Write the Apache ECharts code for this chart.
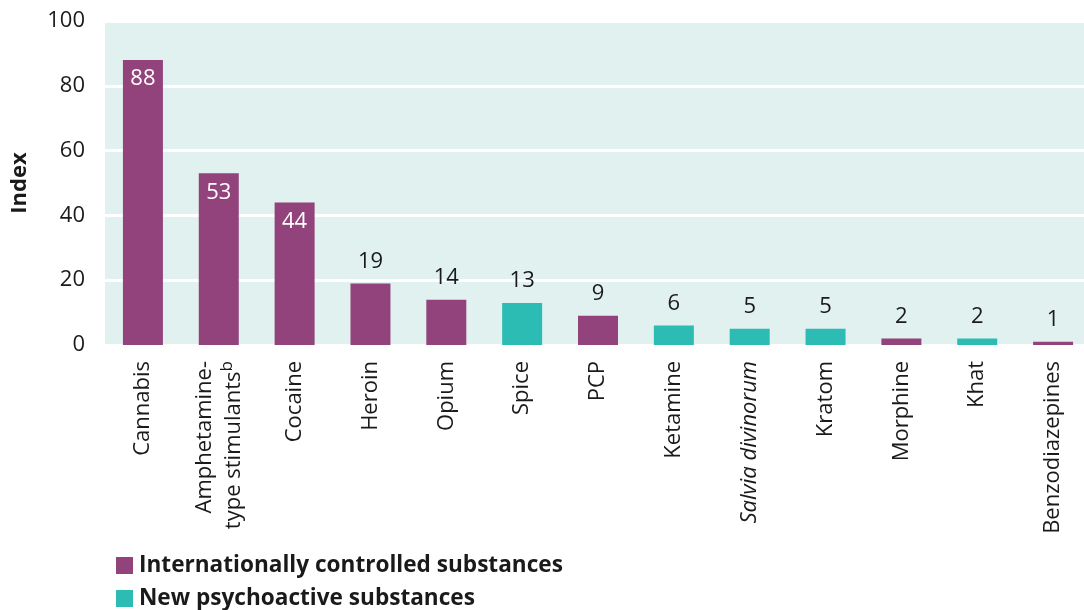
<!DOCTYPE html>
<html>
<head>
<meta charset="utf-8">
<script src="https://cdn.jsdelivr.net/npm/echarts@6/dist/echarts.min.js"></script>
<style>
html,body{margin:0;padding:0;background:#fff;}
#chart{width:1084px;height:610px;}
</style>
</head>
<body>
<div id="chart"></div>
<script>
const categories = ['Cannabis', 'Amphetamine-type stimulants', 'Cocaine', 'Heroin', 'Opium', 'Spice', 'PCP', 'Ketamine', 'Salvia divinorum', 'Kratom', 'Morphine', 'Khat', 'Benzodiazepines'];
const values = [88, 53, 44, 19, 14, 13, 9, 6, 5, 5, 2, 2, 1];
const groups = ['I', 'I', 'I', 'I', 'I', 'N', 'I', 'N', 'N', 'N', 'I', 'N', 'I'];
const seriesNames = ['Internationally controlled substances', 'New psychoactive substances'];
const yTicks = [0, 20, 40, 60, 80, 100];

const PURPLE = '#93437b';
const TEAL = '#2cbcb4';
const TEXT = '#1a1a1a';
const FONT = '"Open Sans", "Noto Sans", sans-serif';

function buildData(g) {
  return values.map((v, i) => {
    if (groups[i] !== g) return '-';
    const inside = v > 30;
    return {
      value: v,
      label: inside
        ? { position: 'insideTop', distance: 8, color: '#ffffff' }
        : { position: 'top', distance: 11, color: TEXT }
    };
  });
}

function fmtCat(name) {
  if (name === 'Amphetamine-type stimulants') return '{n|Amphetamine-}\n{n|type stimulants}{sup|b}';
  if (name === 'Salvia divinorum') return '{i|Salvia divinorum}';
  return '{n|' + name + '}';
}

const legendText = { fontFamily: FONT, fontSize: 22.6, fontWeight: 'bold', color: TEXT, padding: [0, 0, 0, 1] };

const chart = echarts.init(document.getElementById('chart'), null, { renderer: 'canvas' });
chart.setOption({
  animation: false,
  textStyle: { fontFamily: FONT },
  grid: {
    left: 105, width: 986, top: 21, bottom: 265,
    outerBoundsMode: 'none',
    containLabel: false,
    show: true, backgroundColor: '#e1f1f0', borderWidth: 0
  },
  legend: [
    {
      left: 111, top: 549,
      itemWidth: 17, itemHeight: 17,
      icon: 'rect',
      data: [seriesNames[0]],
      textStyle: legendText
    },
    {
      left: 111, top: 582,
      itemWidth: 17, itemHeight: 17,
      icon: 'rect',
      data: [seriesNames[1]],
      textStyle: legendText
    }
  ],
  xAxis: {
    type: 'category',
    data: categories,
    axisLine: { show: false },
    axisTick: { show: false },
    axisLabel: {
      rotate: 90,
      margin: 16,
      interval: 0,
      formatter: fmtCat,
      rich: {
        n: { fontFamily: FONT, fontSize: 22, color: TEXT, lineHeight: 29 },
        i: { fontFamily: FONT, fontSize: 22, color: TEXT, fontStyle: 'italic', lineHeight: 29 },
        sup: { fontFamily: FONT, fontSize: 17, color: TEXT, verticalAlign: 'top', lineHeight: 29 }
      }
    }
  },
  yAxis: {
    type: 'value',
    min: yTicks[0], max: yTicks[yTicks.length - 1], interval: 20,
    name: 'Index',
    nameLocation: 'middle',
    nameRotate: 90,
    nameGap: 74,
    nameTextStyle: { fontFamily: FONT, fontSize: 22, fontWeight: 'bold', color: TEXT },
    axisLine: { show: false },
    axisTick: { show: false },
    axisLabel: { fontFamily: FONT, fontSize: 22, color: TEXT, margin: 20 },
    splitLine: { show: true, lineStyle: { color: '#ffffff', width: 3 } }
  },
  series: [
    {
      name: seriesNames[0], type: 'bar', stack: 'all', barWidth: 40,
      itemStyle: { color: PURPLE },
      label: { show: true, fontFamily: FONT, fontSize: 22 },
      data: buildData('I')
    },
    {
      name: seriesNames[1], type: 'bar', stack: 'all', barWidth: 40,
      itemStyle: { color: TEAL },
      label: { show: true, fontFamily: FONT, fontSize: 22 },
      data: buildData('N')
    }
  ]
});
</script>
</body>
</html>
